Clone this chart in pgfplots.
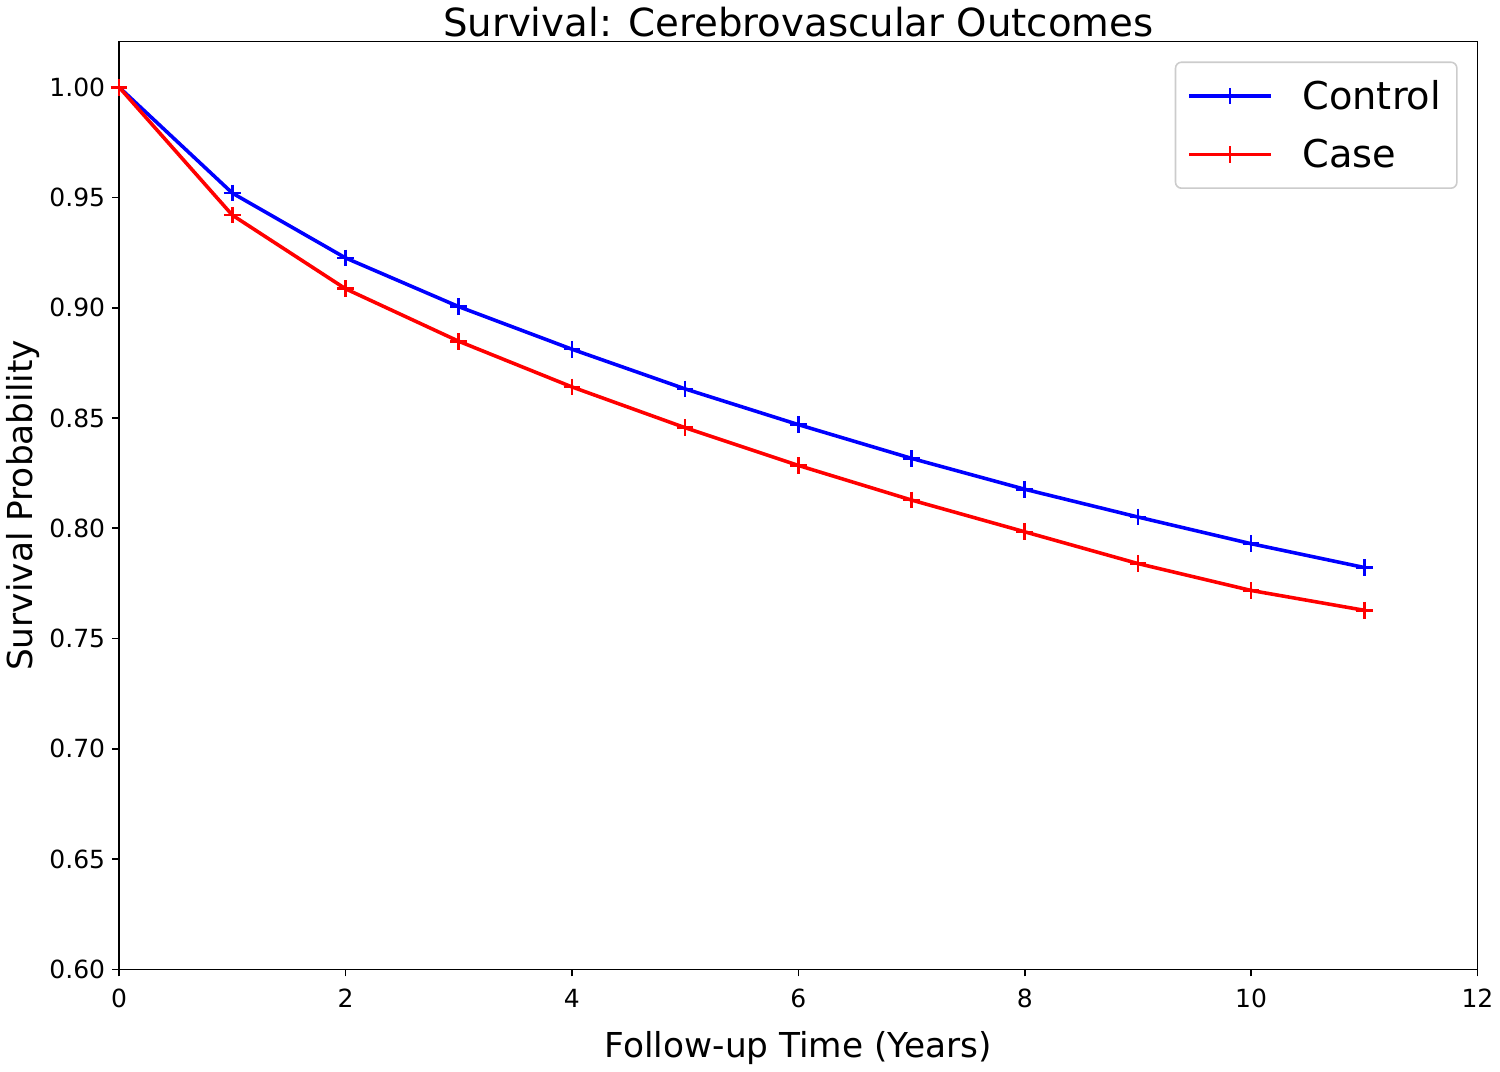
\documentclass[border=0pt]{standalone}
\usepackage{pgfplots}
\pgfplotsset{compat=1.18}
\usepackage{fontspec}
\setmainfont{DejaVu Sans}
\begin{document}
\begin{tikzpicture}
\begin{axis}[
  scale only axis,
  width=684.5pt, height=467.5pt,
  xmin=0, xmax=12, ymin=0.6, ymax=1.0207,
  xtick={0,2,...,12},
  ytick={0.6,0.65,...,1.0},
  /pgf/number format/assume math mode=true,
  tick label style={font=\fontsize{12.6}{15}\selectfont},
  yticklabel style={/pgf/number format/.cd,fixed,fixed zerofill,precision=2},
  xticklabel style={yshift=-3pt,/pgf/number format/.cd,fixed,precision=0},
  tick align=outside, tick pos=left,
  major tick length=3.5pt,
  every tick/.style={black, line width=0.8pt},
  axis line style={line width=0.8pt},
  title={Survival: Cerebrovascular Outcomes},
  title style={font=\fontsize{19.5}{23}\selectfont, yshift=-7pt},
  xlabel={Follow-up Time (Years)},
  ylabel={Survival Probability},
  label style={font=\fontsize{17.3}{20}\selectfont},
  xlabel style={yshift=-5pt},
  ylabel style={yshift=-2pt},
  legend style={at={(1,1)}, anchor=north east, xshift=-10pt, yshift=-10pt,
    draw=black!20, rounded corners=3pt, line width=0.8pt,
    font=\fontsize{19.3}{23}\selectfont, row sep=9.5pt,
    inner xsep=6pt, inner ysep=7pt},
  legend cell align=left,
  legend image code/.code={%
    \draw[mark repeat=2,mark phase=2] plot coordinates {(1pt,0pt) (21.5pt,0pt) (42pt,0pt)};
    \path[draw=none,fill=none] (0pt,0pt) -- (56pt,0pt);},
]
\addplot[blue, line width=1.8pt, mark=+, mark size=4.2pt, mark options={line width=1.3pt}] coordinates {
(0,1.0) (1,0.952) (2,0.9226) (3,0.9005) (4,0.8812) (5,0.8632) (6,0.847) (7,0.8317) (8,0.8177) (9,0.8051) (10,0.793) (11,0.7822)
};
\addlegendentry{Control}
\addplot[red, line width=1.8pt, mark=+, mark size=4.2pt, mark options={line width=1.3pt}] coordinates {
(0,1.0) (1,0.942) (2,0.9086) (3,0.8848) (4,0.8641) (5,0.8456) (6,0.8285) (7,0.8128) (8,0.7984) (9,0.784) (10,0.7718) (11,0.7628)
};
\addlegendentry{Case}
\end{axis}
\end{tikzpicture}
\end{document}
